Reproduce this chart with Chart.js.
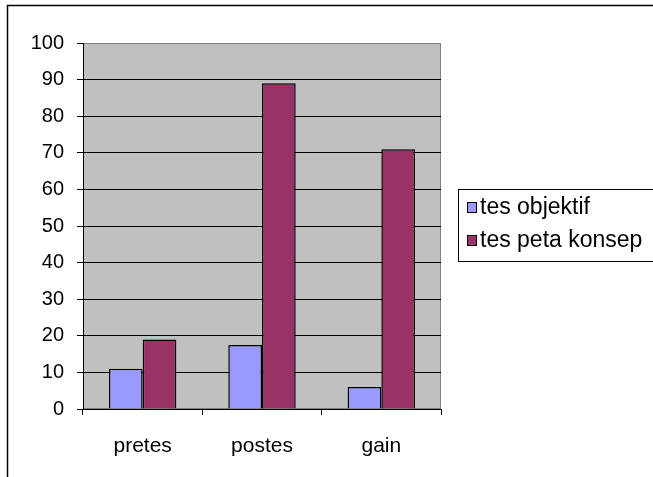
<!DOCTYPE html>
<html>
<head>
<meta charset="utf-8">
<script src="https://cdn.jsdelivr.net/npm/chart.js@4"></script>
<style>
  html, body { margin: 0; padding: 0; background: #fff; }
  #wrap { width: 653px; height: 477px; position: relative; }
</style>
</head>
<body>
<div id="wrap"><canvas id="chart"></canvas></div>
<script>
// categories and series
const categories = ["pretes", "postes", "gain"];
const tesObjektif = [11, 17.5, 6];
const tesPetaKonsep = [19, 89, 71];
const seriesLabels = ["tes objektif", "tes peta konsep"];

const FONT = "'Liberation Sans', Arial, sans-serif";

// white page with the old frame lines, grey plot area
const backdrop = {
  id: "backdrop",
  beforeDraw(chart) {
    const { ctx, chartArea: a } = chart;
    ctx.save();
    ctx.fillStyle = "#fff";
    ctx.fillRect(0, 0, chart.width, chart.height);
    ctx.strokeStyle = "#000";
    ctx.lineWidth = 1.5;
    ctx.beginPath();
    ctx.moveTo(7.5, chart.height);
    ctx.lineTo(7.5, 5.5);
    ctx.lineTo(chart.width, 5.5);
    ctx.stroke();
    ctx.fillStyle = "#c0c0c0";
    ctx.fillRect(a.left, a.top, a.right - a.left, a.bottom - a.top);
    ctx.strokeStyle = "#808080";
    ctx.lineWidth = 1;
    ctx.strokeRect(a.left + 0.5, a.top + 0.5, a.right - a.left - 1, a.bottom - a.top - 1);
    ctx.restore();
  }
};

// Excel style legend box on the right
const boxLegend = {
  id: "boxLegend",
  afterDraw(chart) {
    const { ctx } = chart;
    const x = 458.5, y = 189.5, w = 196, h = 72;
    ctx.save();
    ctx.fillStyle = "#fff";
    ctx.fillRect(x, y, w, h);
    ctx.strokeStyle = "#000";
    ctx.lineWidth = 1;
    ctx.strokeRect(x, y, w, h);
    ctx.font = "23px " + FONT;
    ctx.textBaseline = "alphabetic";
    chart.data.datasets.forEach((ds, i) => {
      const base = 214 + i * 33;
      ctx.fillStyle = ds.backgroundColor;
      ctx.fillRect(468, base - 11, 8, 9);
      ctx.strokeStyle = "#000";
      ctx.strokeRect(467.5, base - 11.5, 9, 10);
      ctx.fillStyle = "#000";
      ctx.fillText(ds.label, 480, base);
    });
    ctx.restore();
  }
};

new Chart(document.getElementById("chart"), {
  type: "bar",
  data: {
    labels: categories,
    datasets: [
      {
        label: seriesLabels[0],
        data: tesObjektif,
        backgroundColor: "#9999ff",
        borderColor: "#000",
        borderWidth: 1.5
      },
      {
        label: seriesLabels[1],
        data: tesPetaKonsep,
        backgroundColor: "#993366",
        borderColor: "#000",
        borderWidth: 1.5
      }
    ]
  },
  options: {
    responsive: true,
    maintainAspectRatio: false,
    animation: false,
    layout: { padding: { top: 43, right: 212, left: 0, bottom: 0 } },
    plugins: {
      legend: { display: false },
      tooltip: { enabled: false }
    },
    datasets: {
      bar: { barPercentage: 1, categoryPercentage: 0.565 }
    },
    scales: {
      y: {
        min: 0,
        max: 100,
        ticks: {
          stepSize: 10,
          color: "#000",
          padding: 13,
          font: { family: FONT, size: 20 }
        },
        grid: {
          color: (c) => (c.tick && c.tick.value === 100 ? "#808080" : "#000"),
          tickColor: "#000",
          tickLength: 6,
          lineWidth: 1
        },
        border: { color: "#000", width: 1 },
        afterFit(scale) { scale.width = 83; }
      },
      x: {
        ticks: {
          color: "#000",
          padding: 19,
          font: { family: FONT, size: 21 }
        },
        grid: {
          offset: true,
          drawOnChartArea: false,
          color: "#000",
          tickLength: 6
        },
        border: { color: "#000", width: 1 },
        afterFit(scale) { scale.height = 68; }
      }
    }
  },
  plugins: [backdrop, boxLegend]
});
</script>
</body>
</html>
